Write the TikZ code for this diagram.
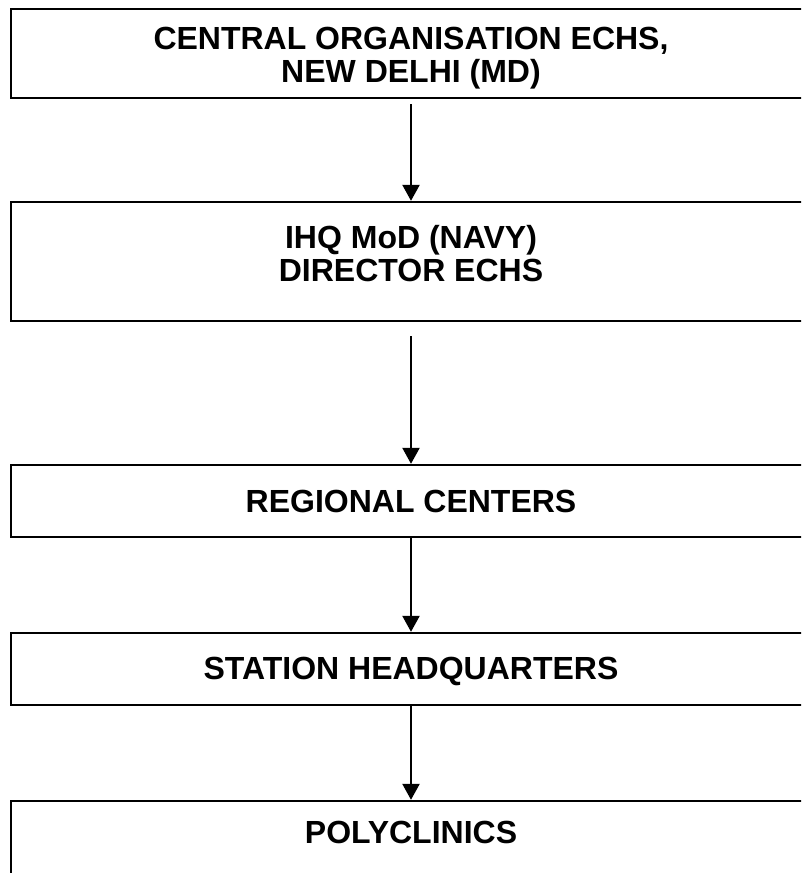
\documentclass[tikz,border=0pt]{standalone}
\usepackage{fontspec}
\setmainfont{Liberation Sans}
\usetikzlibrary{arrows.meta}

\begin{document}
\begin{tikzpicture}[x=1pt, y=-1pt,
            orgbox/.style={rectangle, draw, line width=2.4pt, minimum width=800pt, inner sep=0pt},
            boxtext/.style={font=\fontsize{32}{33}\selectfont\bfseries, align=center, inner sep=0pt},
            flowarrow/.style={-{Triangle[width=17pt,length=16pt]}, line width=2.4pt}
            ]
            \useasboundingbox (0,0) rectangle (801,873);
            \clip (0,0) rectangle (801,873);
            % Boxes
            \node[orgbox, minimum height=89pt] (central) at (411,53.5) {};
            \node[orgbox, minimum height=119pt] (ihq) at (411,261.5) {};
            \node[orgbox, minimum height=72pt] (regional) at (411,501) {};
            \node[orgbox, minimum height=72pt] (station) at (411,669) {};
            \node[orgbox, minimum height=90pt] (poly) at (411,846) {};
            % Texts
            \node[boxtext] at ([yshift=-5pt]central.center) {CENTRAL ORGANISATION ECHS,\\NEW DELHI (MD)};
            \node[boxtext] at ([yshift=8pt]ihq.center) {IHQ MoD (NAVY)\\DIRECTOR ECHS};
            \node[boxtext] at (regional.center) {REGIONAL CENTERS};
            \node[boxtext] at ([yshift=-2pt]station.center) {STATION HEADQUARTERS};
            \node[boxtext] at ([yshift=14pt]poly.center) {POLYCLINICS};
            % Arrows
            \draw[flowarrow, shorten <=5pt] (central) -- (ihq);
            \draw[flowarrow, shorten <=14pt] (ihq) -- (regional);
            \draw[flowarrow] (regional) -- (station);
            \draw[flowarrow] (station) -- (poly);
          \end{tikzpicture}
\end{document}
